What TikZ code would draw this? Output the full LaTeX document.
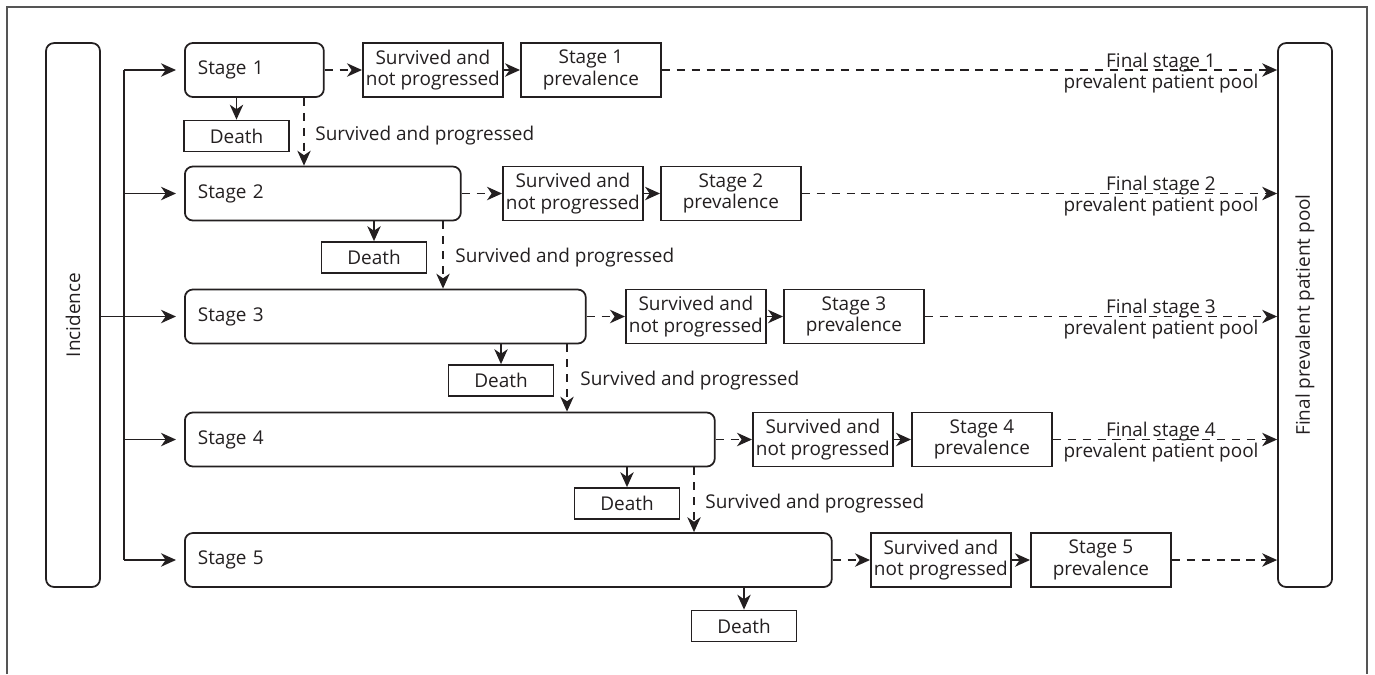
\documentclass[tikz,border=0pt]{standalone}
\usepackage{fontspec}
\setmainfont{Open Sans}
\usetikzlibrary{arrows.meta,calc}
\definecolor{ink}{HTML}{231F20}
\definecolor{framec}{HTML}{555555}
\begin{document}
\begin{tikzpicture}[x=0.02cm,y=-0.02cm,
  every node/.style={font=\fontsize{10.8}{12.2}\selectfont, text=ink},
  ln/.style={draw=ink, line width=1pt},
  arr/.style={ln, -{Stealth[length=8.5pt,width=7.6pt,inset=2.6pt]}},
  dsh/.style={arr, dash pattern=on 4.6pt off 3.9pt},
  gap/.style={shorten >=0.16cm},
  stagebox/.style={ln, rectangle, rounded corners=0.16cm, minimum height=1.08cm, inner xsep=0.26cm, inner ysep=0pt, align=left, anchor=west},
  sbox/.style={ln, rectangle, minimum height=1.08cm, minimum width=2.8cm, inner sep=1pt, align=center, anchor=west},
  dbox/.style={ln, rectangle, minimum height=0.62cm, minimum width=2.1cm, inner sep=1pt},
  sidebox/.style={ln, rectangle, rounded corners=0.16cm, minimum width=1.08cm, minimum height=10.88cm, inner sep=0pt},
  plab/.style={anchor=west, inner xsep=0pt},
  flab/.style={anchor=base, inner sep=0pt}
]
\useasboundingbox (0,0) rectangle (1375,674);
% frame
\draw[draw=framec, line width=0.7pt] (7,674) -- (7,7) -- (1367,7) -- (1367,674);

% side boxes
\node[sidebox] (inc) at (73,315) {};
\node[rotate=90] (inctext) at (inc.center) {Incidence};
\node[sidebox] (pool) at (1305,315) {};
\node[rotate=90] (pooltext) at (pool.center) {Final prevalent patient pool};

% stages
\node[stagebox, text width=2.26cm] (s1) at (184,70) {Stage 1};
\node[stagebox, text width=5.0cm] (s2) at (184,193.5) {Stage 2};
\node[stagebox, text width=7.5cm] (s3) at (184,316.5) {Stage 3};
\node[stagebox, text width=10.08cm] (s4) at (184,439.5) {Stage 4};
\node[stagebox, text width=12.42cm] (s5) at (184,560) {Stage 5};

% survived and not progressed
\node[sbox] (n1) at (362,70) {Survived and\\not progressed};
\node[sbox] (n2) at (502,193.5) {Survived and\\not progressed};
\node[sbox] (n3) at (625,316.5) {Survived and\\not progressed};
\node[sbox] (n4) at (752,439.5) {Survived and\\not progressed};
\node[sbox] (n5) at (870,560) {Survived and\\not progressed};

% prevalence
\node[sbox] (p1) at (520,70) {Stage 1\\prevalence};
\node[sbox] (p2) at (660,193.5) {Stage 2\\prevalence};
\node[sbox] (p3) at (783,316.5) {Stage 3\\prevalence};
\node[sbox] (p4) at (911,439.5) {Stage 4\\prevalence};
\node[sbox] (p5) at (1030,560) {Stage 5\\prevalence};

% deaths
\node[dbox] (d1) at (236.5,136) {Death};
\node[dbox] (d2) at (374,257.5) {Death};
\node[dbox] (d3) at (501,380.5) {Death};
\node[dbox] (d4) at (627,503.5) {Death};
\node[dbox] (d5) at (744,626) {Death};

% trunk
\coordinate (tr) at (124,0);
\draw[ln] (tr |- s1.west) -- (tr |- s5.west);
\draw[arr, gap] (tr |- s1.west) -- (s1.west);
\draw[arr, gap] (tr |- s2.west) -- (s2.west);
\draw[arr, gap] (inc.east |- s3.west) -- (s3.west);
\draw[arr, gap] (tr |- s4.west) -- (s4.west);
\draw[arr, gap] (tr |- s5.west) -- (s5.west);

% stage -> not progressed -> prevalence
\foreach \i in {1,...,5}{
  \draw[dsh] (s\i.east) -- (n\i.west);
  \draw[arr] (n\i.east) -- (p\i.west);
  \draw[dsh] (p\i.east) -- (pool.west |- p\i.east);
  \draw[arr] (d\i.north |- s\i.south) -- (d\i.north);
}

% progression
\coordinate (v1) at (304,0);
\coordinate (v2) at (443,0);
\coordinate (v3) at (567,0);
\coordinate (v4) at (694,0);
\draw[dsh] (v1 |- s1.south) -- (v1 |- s2.north);
\draw[dsh] (v2 |- s2.south) -- (v2 |- s3.north);
\draw[dsh] (v3 |- s3.south) -- (v3 |- s4.north);
\draw[dsh] (v4 |- s4.south) -- (v4 |- s5.north);
\node[plab] (g1) at (315,136) {Survived and progressed};
\node[plab] (g2) at (455,257.5) {Survived and progressed};
\node[plab] (g3) at (580,380.5) {Survived and progressed};
\node[plab] (g4) at (705,503.5) {Survived and progressed};

% final labels
\node[flab] (f1a) at (1161,67) {Final stage 1};
\node[flab] (f1b) at (1161,88) {prevalent patient pool};
\node[flab] (f2a) at (1161,190.5) {Final stage 2};
\node[flab] (f2b) at (1161,211.5) {prevalent patient pool};
\node[flab] (f3a) at (1161,313.5) {Final stage 3};
\node[flab] (f3b) at (1161,334.5) {prevalent patient pool};
\node[flab] (f4a) at (1161,436.5) {Final stage 4};
\node[flab] (f4b) at (1161,457.5) {prevalent patient pool};
\end{tikzpicture}
\end{document}
